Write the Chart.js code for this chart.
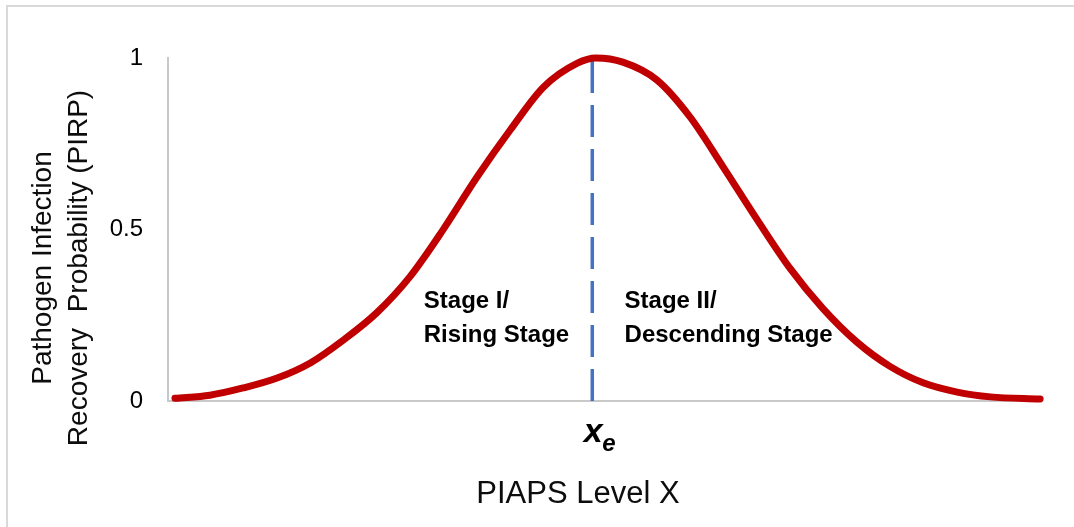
<!DOCTYPE html>
<html>
<head>
<meta charset="utf-8">
<script src="https://cdn.jsdelivr.net/npm/chart.js@4"></script>
<style>
  html, body { margin: 0; padding: 0; background: #ffffff; }
  #wrap { width: 1074px; height: 527px; position: relative; }
</style>
</head>
<body>
<div id="wrap"><canvas id="c" width="1074" height="527"></canvas></div>
<script>
// ---- data ----
const levelX = [0.8, 4.8, 8.6, 12.5, 16.3, 20.1, 23.9, 27.7, 31.5, 35.4, 39.2, 43.0, 46.9, 49.0, 52.1, 56.0, 59.8, 63.6, 67.5, 71.3, 75.0, 78.9, 82.7, 86.5, 90.4, 94.2, 99.9];
const pirp   = [0.008, 0.017, 0.038, 0.067, 0.111, 0.178, 0.257, 0.362, 0.499, 0.653, 0.790, 0.915, 0.985, 1.000, 0.988, 0.936, 0.828, 0.682, 0.528, 0.385, 0.270, 0.172, 0.101, 0.053, 0.026, 0.012, 0.006];
const xeValue = 48.6;
const xeLine = [0, 1.005];
const yTicks = [0, 0.5, 1];
const stageLabels = [
  { lines: ["Stage I/", "Rising Stage"], x: 29.3 },
  { lines: ["Stage II/", "Descending Stage"], x: 52.3 }
];
const stageBaselines = [0.271, 0.172];
const yTitleLines = ["Pathogen Infection", "Recovery  Probability (PIRP)"];
const xTitle = "PIAPS Level X";

const FONT = "'Liberation Sans', Arial, sans-serif";

const decorPlugin = {
  id: 'decor',
  beforeDraw(chart) {
    const ctx = chart.ctx;
    ctx.save();
    ctx.fillStyle = '#ffffff';
    ctx.fillRect(0, 0, chart.width, chart.height);
    ctx.strokeStyle = '#d9d9d9';
    ctx.lineWidth = 2;
    ctx.strokeRect(7, 6, chart.width + 20, chart.height + 20);
    ctx.restore();
  },
  afterDraw(chart) {
    const ctx = chart.ctx;
    const xs = chart.scales.x, ys = chart.scales.y;
    const ca = chart.chartArea;
    ctx.save();
    ctx.fillStyle = '#000000';
    // stage labels
    ctx.font = "bold 24px " + FONT;
    ctx.textAlign = 'left';
    ctx.textBaseline = 'alphabetic';
    stageLabels.forEach(s => {
      s.lines.forEach((t, i) => {
        ctx.fillText(t, xs.getPixelForValue(s.x), ys.getPixelForValue(stageBaselines[i]));
      });
    });
    // x_e label
    const xp = xs.getPixelForValue(xeValue);
    ctx.font = "italic bold 34px " + FONT;
    ctx.textAlign = 'center';
    ctx.fillText('x', xp + 1, ca.bottom + 41);
    ctx.font = "italic bold 24px " + FONT;
    ctx.textAlign = 'left';
    ctx.fillText('e', xp + 10, ca.bottom + 50);
    // x title
    ctx.font = "31px " + FONT;
    ctx.textAlign = 'center';
    ctx.fillStyle = '#0d0d0d';
    ctx.fillText(xTitle, 578, ca.bottom + 102);
    // y title
    ctx.translate(0, 268);
    ctx.rotate(-Math.PI / 2);
    ctx.font = "28px " + FONT;
    ctx.textAlign = 'center';
    ctx.fillText(yTitleLines[0], 0, 51);
    ctx.fillText(yTitleLines[1], 0, 87);
    ctx.restore();
  }
};

new Chart(document.getElementById('c'), {
  type: 'scatter',
  data: {
    datasets: [
      {
        label: 'PIRP',
        data: levelX.map((x, i) => ({ x: x, y: pirp[i] })),
        showLine: true,
        borderColor: '#C00000',
        backgroundColor: '#C00000',
        borderWidth: 7,
        borderCapStyle: 'round',
        borderJoinStyle: 'round',
        cubicInterpolationMode: 'monotone',
        pointRadius: 0,
        clip: false
      },
      {
        label: 'xe',
        data: xeLine.map(y => ({ x: xeValue, y: y })),
        showLine: true,
        borderColor: '#4472C4',
        borderWidth: 3.5,
        borderDash: [32, 12],
        borderCapStyle: 'butt',
        pointRadius: 0,
        clip: false
      }
    ]
  },
  options: {
    responsive: false,
    animation: false,
    events: [],
    layout: { padding: { top: 58, right: 33, left: 0, bottom: 0 } },
    plugins: { legend: { display: false }, tooltip: { enabled: false }, title: { display: false } },
    scales: {
      x: {
        type: 'linear', min: 0, max: 100,
        grid: { display: false, drawTicks: false },
        border: { display: true, color: '#c9c9c9', width: 2 },
        ticks: { display: false },
        afterFit(scale) { scale.height = 126; }
      },
      y: {
        type: 'linear', min: 0, max: 1,
        afterBuildTicks(scale) { scale.ticks = yTicks.map(v => ({ value: v })); },
        grid: { display: false, drawTicks: false },
        border: { display: true, color: '#c9c9c9', width: 2 },
        ticks: { color: '#000000', font: { family: FONT, size: 24 }, padding: 25, callback: v => String(v) },
        afterFit(scale) { scale.width = 168; }
      }
    }
  },
  plugins: [decorPlugin]
});
</script>
</body>
</html>
